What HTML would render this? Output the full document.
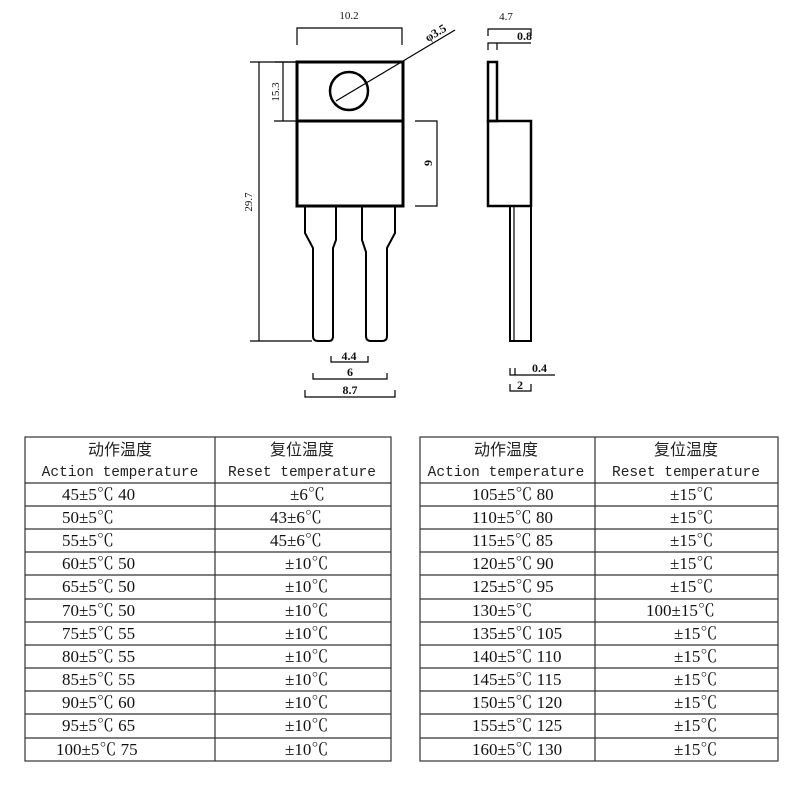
<!DOCTYPE html>
<html><head><meta charset="utf-8"><style>
body{margin:0;background:#fff;}
svg{display:block}
.s{font-family:"Liberation Serif","Noto Serif CJK SC",serif;font-size:17px;fill:#111}
.c{font-family:"Liberation Sans","Noto Sans CJK SC",sans-serif;font-size:16px;fill:#222}
.m{font-family:"Liberation Mono",monospace;font-size:14.5px;fill:#222}
.d{font-family:"Liberation Serif",serif;font-size:11px;fill:#111}
.b{font-family:"Liberation Serif",serif;font-size:12px;font-weight:bold;fill:#111}
</style></head><body>
<svg width="800" height="800" viewBox="0 0 800 800" xmlns="http://www.w3.org/2000/svg">
<g fill="none" stroke="#000">
<rect x="297" y="62" width="106" height="144" stroke-width="3"/>
<line x1="297" y1="121" x2="403" y2="121" stroke-width="3"/>
<circle cx="349" cy="91" r="19" stroke-width="2.5"/>
<line x1="336" y1="101" x2="455" y2="30" stroke-width="1.2"/>
<path d="M305 207 V233 L313 248 V336 Q313 341 318 341 H329 Q333 341 333 336 V248 L336 240 V207" stroke-width="2"/>
<path d="M362 207 V240 L366 252 V336 Q366 341 371 341 H382 Q387 341 387 336 V248 L395 233 V207" stroke-width="2"/>
<g stroke-width="1.2">
<path d="M297 45 V28 H402 V45"/>
<path d="M250 62 H297 M259 62 V341 M250 341 H312"/>
<path d="M275 62 H297 M283 62 V121 M274 121 H297"/>
<path d="M415 121 H437 V206 H415"/>
<path d="M331 356 V362 H368 V356"/>
<path d="M313 373 V379 H387 V373"/>
<path d="M305 390 V397 H395 V390"/>
</g>
<rect x="488" y="62" width="9" height="59" stroke-width="2.5"/>
<rect x="488" y="121" width="43" height="85" stroke-width="2.5"/>
<rect x="510" y="206" width="21" height="135" stroke-width="2"/>
<line x1="514" y1="206" x2="514" y2="341" stroke-width="1.2"/>
<g stroke-width="1.2">
<path d="M488 36 V29 H531 V36"/>
<path d="M488 50 V43 H531 M497 43 V50"/>
<path d="M510 368 V375 H555 M515 368 V375"/>
<path d="M510 384 V391 H531 V384"/>
</g>
</g>
<text x="349" y="19" class="d" text-anchor="middle">10.2</text>
<text x="506" y="20" class="d" text-anchor="middle">4.7</text>
<text x="517" y="40" class="b">0.8</text>
<text class="b" transform="translate(428,42) rotate(-31)">φ3.5</text>
<text class="d" transform="translate(252,202) rotate(-90)" text-anchor="middle">29.7</text>
<text class="d" transform="translate(279,92) rotate(-90)" text-anchor="middle">15.3</text>
<text class="b" transform="translate(432,163) rotate(-90)" text-anchor="middle">9</text>
<text x="349" y="360" class="b" text-anchor="middle">4.4</text>
<text x="350" y="376" class="b" text-anchor="middle">6</text>
<text x="350" y="394" class="b" text-anchor="middle">8.7</text>
<text x="532" y="372" class="b">0.4</text>
<text x="520" y="389" class="b" text-anchor="middle">2</text>

<g stroke="#333" stroke-width="1.2" fill="none">
<rect x="25" y="437" width="366" height="324"/>
<line x1="215" y1="437" x2="215" y2="761"/>
<rect x="420" y="437" width="358" height="324"/>
<line x1="595" y1="437" x2="595" y2="761"/>
<path d="M25 483H391M25 506H391M25 529H391M25 552H391M25 575H391M25 599H391M25 622H391M25 645H391M25 668H391M25 691H391M25 714H391M25 738H391"/>
<path d="M420 483H778M420 506H778M420 529H778M420 552H778M420 575H778M420 599H778M420 622H778M420 645H778M420 668H778M420 691H778M420 714H778M420 738H778"/>
</g>
<text x="120" y="455" class="c" text-anchor="middle">动作温度</text>
<text x="302" y="455" class="c" text-anchor="middle">复位温度</text>
<text x="120" y="476" class="m" text-anchor="middle">Action temperature</text>
<text x="302" y="476" class="m" text-anchor="middle">Reset temperature</text>
<text x="506" y="455" class="c" text-anchor="middle">动作温度</text>
<text x="686" y="455" class="c" text-anchor="middle">复位温度</text>
<text x="506" y="476" class="m" text-anchor="middle">Action temperature</text>
<text x="686" y="476" class="m" text-anchor="middle">Reset temperature</text>
<g class="s">
<text x="62" y="500">45±5℃ 40</text><text x="290" y="500">±6℃</text>
<text x="62" y="523">50±5℃</text><text x="270" y="523">43±6℃</text>
<text x="62" y="546">55±5℃</text><text x="270" y="546">45±6℃</text>
<text x="62" y="569">60±5℃ 50</text><text x="285" y="569">±10℃</text>
<text x="62" y="592">65±5℃ 50</text><text x="285" y="592">±10℃</text>
<text x="62" y="616">70±5℃ 50</text><text x="285" y="616">±10℃</text>
<text x="62" y="639">75±5℃ 55</text><text x="285" y="639">±10℃</text>
<text x="62" y="662">80±5℃ 55</text><text x="285" y="662">±10℃</text>
<text x="62" y="685">85±5℃ 55</text><text x="285" y="685">±10℃</text>
<text x="62" y="708">90±5℃ 60</text><text x="285" y="708">±10℃</text>
<text x="62" y="731">95±5℃ 65</text><text x="285" y="731">±10℃</text>
<text x="56" y="755">100±5℃ 75</text><text x="285" y="755">±10℃</text>
<text x="472" y="500">105±5℃ 80</text><text x="670" y="500">±15℃</text>
<text x="472" y="523">110±5℃ 80</text><text x="670" y="523">±15℃</text>
<text x="472" y="546">115±5℃ 85</text><text x="670" y="546">±15℃</text>
<text x="472" y="569">120±5℃ 90</text><text x="670" y="569">±15℃</text>
<text x="472" y="592">125±5℃ 95</text><text x="670" y="592">±15℃</text>
<text x="472" y="616">130±5℃</text><text x="646" y="616">100±15℃</text>
<text x="472" y="639">135±5℃ 105</text><text x="674" y="639">±15℃</text>
<text x="472" y="662">140±5℃ 110</text><text x="674" y="662">±15℃</text>
<text x="472" y="685">145±5℃ 115</text><text x="674" y="685">±15℃</text>
<text x="472" y="708">150±5℃ 120</text><text x="674" y="708">±15℃</text>
<text x="472" y="731">155±5℃ 125</text><text x="674" y="731">±15℃</text>
<text x="472" y="755">160±5℃ 130</text><text x="674" y="755">±15℃</text>
</g>
</svg>
</body></html>
